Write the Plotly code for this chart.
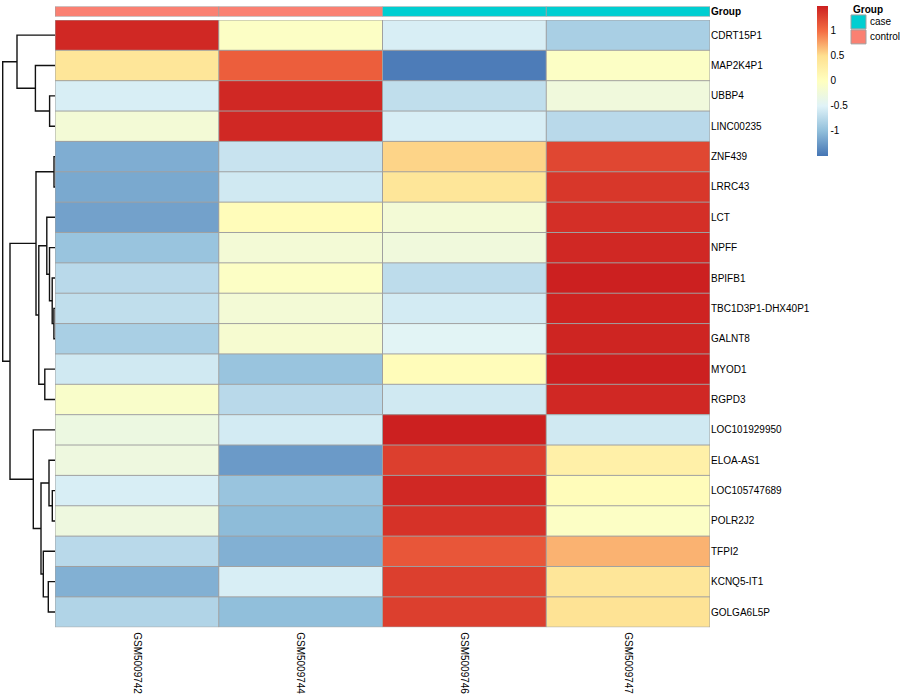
import plotly.graph_objects as go

# ---------------- data ----------------
samples = ["GSM5009742", "GSM5009744", "GSM5009746", "GSM5009747"]
groups = ["control", "control", "case", "case"]
genes = ["CDRT15P1", "MAP2K4P1", "UBBP4", "LINC00235", "ZNF439", "LRRC43", "LCT",
         "NPFF", "BPIFB1", "TBC1D3P1-DHX40P1", "GALNT8", "MYOD1", "RGPD3",
         "LOC101929950", "ELOA-AS1", "LOC105747689", "POLR2J2", "TFPI2",
         "KCNQ5-IT1", "GOLGA6L5P"]
col_GSM5009742 = [1.45, 0.40, -0.55, -0.20, -1.12, -1.15, -1.20, -0.95, -0.75, -0.70,
                  -0.85, -0.60, -0.10, -0.30, -0.28, -0.55, -0.28, -0.75, -1.10, -0.80]
col_GSM5009744 = [-0.05, 1.10, 1.45, 1.45, -0.65, -0.60, 0.05, -0.20, -0.05, -0.20,
                  -0.15, -0.95, -0.75, -0.58, -1.25, -0.95, -1.02, -1.10, -0.55, -1.00]
col_GSM5009746 = [-0.55, -1.45, -0.70, -0.55, 0.55, 0.40, -0.20, -0.25, -0.72, -0.58,
                  -0.47, 0.05, -0.60, 1.50, 1.30, 1.45, 1.38, 1.15, 1.30, 1.30]
col_GSM5009747 = [-0.85, -0.05, -0.25, -0.75, 1.25, 1.35, 1.40, 1.45, 1.50, 1.48,
                  1.47, 1.50, 1.45, -0.60, 0.25, 0.05, -0.05, 0.70, 0.40, 0.45]

# row dendrogram merges: (left child, right child, height); leaves 0..19, merge k -> 20+k
merge_left = [2, 1, 0, 4, 9, 8, 7, 6, 11, 27, 23, 15, 14, 18, 17, 32, 13, 30, 22]
merge_right = [3, 20, 21, 5, 10, 24, 25, 26, 12, 28, 29, 16, 31, 19, 33, 34, 35, 36, 37]
merge_height = [5.4, 19.6, 38.0, 1.0, 1.1, 2.8, 5.5, 8.2, 10.2, 16.2, 19.0, 2.7, 6.0,
                6.7, 11.7, 14.0, 21.7, 45.0, 52.3]

colorbar_ticks = [1, 0.5, 0, -0.5, -1]
group_names = ["case", "control"]
group_colors = {"control": "#FA8072", "case": "#00CED1"}

# ---------------- layout helpers ----------------
W, H = 900, 700
def px(x):
    return x / W
def py(y):
    return 1 - y / H

FONT = "Liberation Sans, Arial, Helvetica, sans-serif"
n_rows, n_cols = len(genes), len(samples)
z = [[col_GSM5009742[i], col_GSM5009744[i], col_GSM5009746[i], col_GSM5009747[i]]
     for i in range(n_rows)]

palette = ["#4575B4", "#91BFDB", "#E0F3F8", "#FFFFBF", "#FEE090", "#F46D43", "#CC2020"]
cscale = [[i / (len(palette) - 1), c] for i, c in enumerate(palette)]

fig = go.Figure()

# main heatmap
fig.add_trace(go.Heatmap(
    z=z, x=list(range(n_cols)), y=list(range(n_rows)),
    colorscale=cscale, zmin=-1.5, zmax=1.5,
    xaxis="x", yaxis="y",
    colorbar=dict(
        x=px(817), xanchor="left", xpad=0,
        y=py(5), yanchor="top", ypad=0,
        lenmode="pixels", len=150, thickness=11,
        outlinewidth=0, ticks="", tickvals=colorbar_ticks,
        ticktext=[str(t) for t in colorbar_ticks],
        tickfont=dict(family=FONT, size=10, color="black"),
    ),
    hoverinfo="skip",
))

# grid lines for heatmap
gx, gy = [], []
for c in range(n_cols + 1):
    gx += [c - 0.5, c - 0.5, None]
    gy += [-0.5, n_rows - 0.5, None]
for r in range(n_rows + 1):
    gx += [-0.5, n_cols - 0.5, None]
    gy += [r - 0.5, r - 0.5, None]
fig.add_trace(go.Scatter(x=gx, y=gy, mode="lines", xaxis="x", yaxis="y",
                         line=dict(color="#A0A0A0", width=1), hoverinfo="skip",
                         showlegend=False))

# annotation bar
grp_code = [[0 if g == "case" else 1 for g in groups]]
fig.add_trace(go.Heatmap(
    z=grp_code, x=list(range(n_cols)), y=[0], xaxis="x", yaxis="y3",
    colorscale=[[0, group_colors["case"]], [1, group_colors["control"]]],
    zmin=0, zmax=1, showscale=False, hoverinfo="skip",
))
ax_, ay_ = [], []
for c in range(n_cols + 1):
    ax_ += [c - 0.5, c - 0.5, None]
    ay_ += [-0.5, 0.5, None]
for r in (-0.5, 0.5):
    ax_ += [-0.5, n_cols - 0.5, None]
    ay_ += [r, r, None]
fig.add_trace(go.Scatter(x=ax_, y=ay_, mode="lines", xaxis="x", yaxis="y3",
                         line=dict(color="#A0A0A0", width=1), hoverinfo="skip",
                         showlegend=False))

# dendrogram
node_y = {i: float(i) for i in range(n_rows)}
node_h = {i: 0.0 for i in range(n_rows)}
dx, dy = [], []
for k, (l, r, h) in enumerate(zip(merge_left, merge_right, merge_height)):
    yl, yr = node_y[l], node_y[r]
    dx += [node_h[l], h, h, node_h[r], None]
    dy += [yl, yl, yr, yr, None]
    node_y[n_rows + k] = (yl + yr) / 2
    node_h[n_rows + k] = h
fig.add_trace(go.Scatter(x=dx, y=dy, mode="lines", xaxis="x2", yaxis="y",
                         line=dict(color="#111111", width=1.4), hoverinfo="skip",
                         showlegend=False))

# ---------------- axes ----------------
hm_x = [px(55), px(710)]
hm_y = [py(628), py(19)]
fig.update_layout(
    width=W, height=H,
    margin=dict(l=0, r=0, t=0, b=0),
    paper_bgcolor="white", plot_bgcolor="white",
    showlegend=False,
    font=dict(family=FONT, size=10, color="black"),
    xaxis=dict(domain=hm_x, range=[-0.5, n_cols - 0.5], anchor="y",
               tickvals=list(range(n_cols)), ticktext=samples, tickangle=90,
               ticks="", ticklabelstandoff=4, showgrid=False, zeroline=False,
               showline=False,
               tickfont=dict(family=FONT, size=10, color="black")),
    yaxis=dict(domain=hm_y, range=[n_rows - 0.5, -0.5], anchor="x", side="right",
               tickvals=list(range(n_rows)), ticktext=genes, ticks="",
               showgrid=False, zeroline=False, showline=False,
               tickfont=dict(family=FONT, size=10, color="black")),
    xaxis2=dict(domain=[0, px(55)], range=[55, 0], anchor="y",
                showticklabels=False, ticks="", showgrid=False, zeroline=False,
                showline=False),
    yaxis3=dict(domain=[py(15.5), py(5.5)], range=[-0.5, 0.5], anchor="x",
                side="right", tickvals=[0], ticktext=["<b>Group</b>"], ticks="",
                showgrid=False, zeroline=False, showline=False,
                tickfont=dict(family=FONT, size=10, color="black")),
)

# Group legend
shapes = []
annotations = [dict(x=px(851), y=py(9), xref="paper", yref="paper", text="<b>Group</b>",
                    showarrow=False, xanchor="left", yanchor="middle",
                    font=dict(family=FONT, size=10, color="black"))]
for i, g in enumerate(group_names):
    top = 14 + 15 * i
    shapes.append(dict(type="rect", xref="paper", yref="paper",
                       x0=px(851), x1=px(866), y0=py(top + 14), y1=py(top),
                       fillcolor=group_colors[g], line=dict(color="#A0A0A0", width=1)))
    annotations.append(dict(x=px(868), y=py(top + 7), xref="paper", yref="paper",
                            text=g, showarrow=False, xanchor="left", yanchor="middle",
                            font=dict(family=FONT, size=10, color="black")))
fig.update_layout(shapes=shapes, annotations=annotations)

fig.write_html("out.html", config={"displayModeBar": False},
               post_script="document.body.style.margin='0';document.body.style.overflow='hidden';")
